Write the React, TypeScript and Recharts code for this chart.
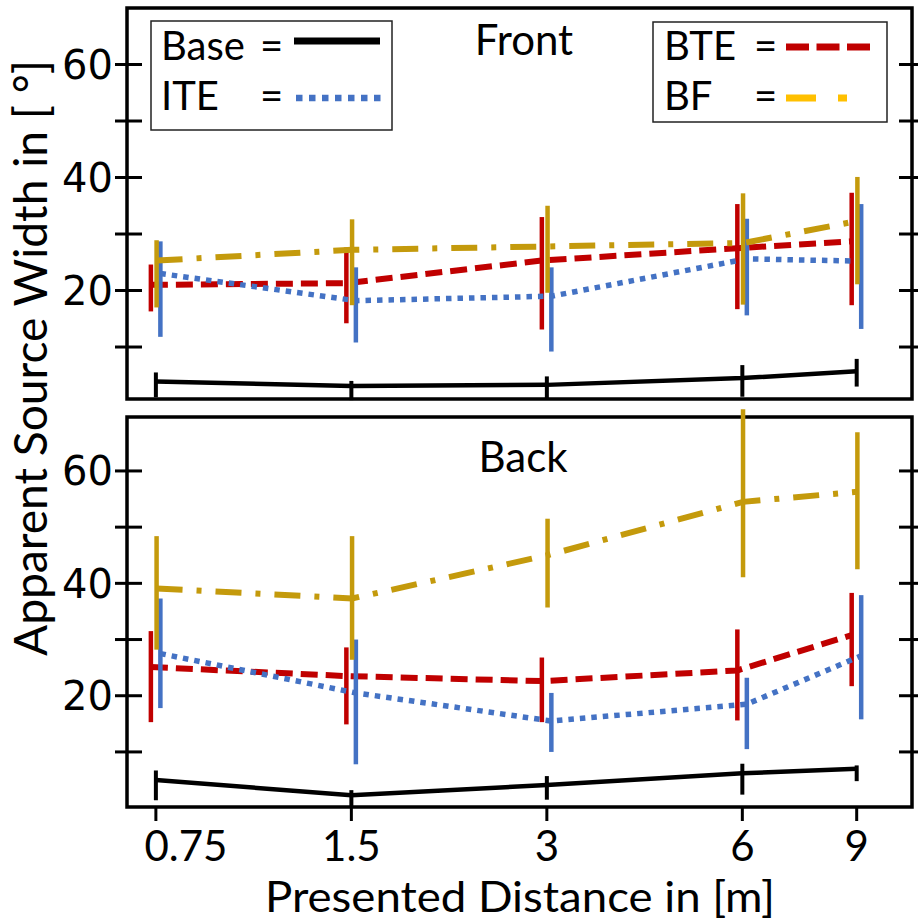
import { LineChart, Line, XAxis, YAxis, ErrorBar, ReferenceArea } from 'recharts';

// presented distances in metres
const distances = [0.75, 1.5, 3, 6, 9];
const yTicks = [10, 20, 30, 40, 50, 60];
const yLabelTicks = [20, 40, 60];

// Front: mean, lower end and upper end of each error bar
const frontBaseMean = [3.9, 3.1, 3.3, 4.5, 5.7];
const frontBaseLow = [1.1, 0.6, 0.8, 1.2, 3.0];
const frontBaseHigh = [5.5, 4.0, 4.8, 6.8, 7.9];
const frontIteMean = [23.0, 18.2, 19.0, 25.6, 25.2];
const frontIteLow = [11.8, 10.8, 9.2, 15.6, 13.2];
const frontIteHigh = [28.7, 24.1, 24.1, 32.7, 35.3];
const frontBteMean = [21.0, 21.3, 25.3, 27.5, 28.7];
const frontBteLow = [16.3, 14.2, 13.1, 16.7, 17.4];
const frontBteHigh = [24.6, 27.6, 33.0, 35.3, 37.3];
const frontBfMean = [25.3, 27.2, 27.8, 28.4, 32.3];
const frontBfLow = [17.0, 17.4, 19.6, 17.5, 21.1];
const frontBfHigh = [28.9, 32.6, 35.0, 37.2, 40.1];

// Back
const backBaseMean = [5.0, 2.3, 4.1, 6.2, 7.0];
const backBaseLow = [1.4, 0.2, 1.5, 2.4, 4.8];
const backBaseHigh = [6.7, 3.2, 5.7, 7.9, 7.6];
const backIteMean = [27.5, 20.5, 15.5, 18.5, 27.1];
const backIteLow = [17.8, 7.8, 10.0, 10.5, 15.8];
const backIteHigh = [37.3, 30.0, 20.5, 23.2, 37.9];
const backBteMean = [25.1, 23.5, 22.6, 24.5, 30.8];
const backBteLow = [15.3, 14.9, 15.3, 15.6, 21.7];
const backBteHigh = [31.5, 28.6, 26.8, 31.8, 38.3];
const backBfMean = [39.1, 37.3, 45.0, 54.5, 56.3];
const backBfLow = [28.2, 26.4, 35.7, 41.1, 42.5];
const backBfHigh = [48.4, 48.4, 51.5, 71.0, 66.9];

const BLACK = '#000000';
const BLUE = '#4472C4';
const RED = '#C00000';
const GOLD = '#C49A0C';
const GOLD_LEGEND = '#FFC000';

const LATO = 'Lato, "Liberation Sans", sans-serif';

const X_DOMAIN: [number, number] = [0.677, 10.95];
const PLOT_W = 785;
const PX_PER_DECADE = PLOT_W / Math.log10(X_DOMAIN[1] / X_DOMAIN[0]);

// move a series sideways by a few pixels (so the error bars sit side by side)
function shifted(px: number): [number, number] {
  const k = Math.pow(10, -px / PX_PER_DECADE);
  return [X_DOMAIN[0] * k, X_DOMAIN[1] * k];
}

function err(mean: number[], low: number[], high: number[]) {
  return mean.map((m, i) => [m - low[i], high[i] - m]);
}

function buildRows(
  base: number[][],
  ite: number[][],
  bte: number[][],
  bf: number[][],
) {
  const baseErr = err(base[0], base[1], base[2]);
  const iteErr = err(ite[0], ite[1], ite[2]);
  const bteErr = err(bte[0], bte[1], bte[2]);
  const bfErr = err(bf[0], bf[1], bf[2]);
  return distances.map((d, i) => ({
    x: d,
    base: base[0][i],
    baseErr: baseErr[i],
    ite: ite[0][i],
    iteErr: iteErr[i],
    bte: bte[0][i],
    bteErr: bteErr[i],
    bf: bf[0][i],
    bfErr: bfErr[i],
  }));
}

const frontRows = buildRows(
  [frontBaseMean, frontBaseLow, frontBaseHigh],
  [frontIteMean, frontIteLow, frontIteHigh],
  [frontBteMean, frontBteLow, frontBteHigh],
  [frontBfMean, frontBfLow, frontBfHigh],
);
const backRows = buildRows(
  [backBaseMean, backBaseLow, backBaseHigh],
  [backIteMean, backIteLow, backIteHigh],
  [backBteMean, backBteLow, backBteHigh],
  [backBfMean, backBfLow, backBfHigh],
);

function LeftTick(props: any) {
  const { x, y, payload } = props;
  const v = payload.value;
  return (
    <g>
      <line x1={x - 12} x2={x + 15} y1={y} y2={y} stroke={BLACK} strokeWidth={3} />
      {yLabelTicks.includes(v) && (
        <text
          x={x - 14}
          y={y}
          dy="0.36em"
          textAnchor="end"
          fontFamily='"DejaVu Sans", sans-serif'
          fontSize={40}
          fill={BLACK}
        >
          {v}
        </text>
      )}
    </g>
  );
}

function RightTick(props: any) {
  const { x, y } = props;
  return <line x1={x - 13} x2={x + 6} y1={y} y2={y} stroke={BLACK} strokeWidth={3} />;
}

function BottomTick(props: any) {
  const { x, y, payload } = props;
  // the first label sits a little right of its tick in the original
  const dx = payload.value === 0.75 ? 30 : 0;
  return (
    <g>
      <line x1={x} x2={x} y1={y} y2={y + 14} stroke={BLACK} strokeWidth={3} />
      <text
        x={x + dx}
        y={y + 54}
        textAnchor="middle"
        fontFamily={LATO}
        fontSize={42}
        fill={BLACK}
      >
        {payload.value}
      </text>
    </g>
  );
}

interface PanelProps {
  rows: ReturnType<typeof buildRows>;
  height: number;
  top: number;
  bottom: number;
  yDomain: [number, number];
  showX: boolean;
}

function Panel({ rows, height, top, bottom, yDomain, showX }: PanelProps) {
  const xCommon = {
    dataKey: 'x',
    type: 'number' as const,
    scale: 'log' as const,
    ticks: distances,
    allowDataOverflow: true,
  };
  return (
    <LineChart
      width={918}
      height={height}
      data={rows}
      margin={{ top, right: 5, bottom: showX ? bottom - 1 : bottom, left: 126 }}
    >
      <XAxis
        {...xCommon}
        xAxisId="base"
        domain={X_DOMAIN}
        hide={!showX}
        height={1}
        interval={0}
        tickSize={0}
        tickMargin={0}
        tickLine={false}
        axisLine={false}
        tick={<BottomTick />}
      />
      <XAxis {...xCommon} xAxisId="bte" domain={shifted(-5)} hide />
      <XAxis {...xCommon} xAxisId="ite" domain={shifted(4.5)} hide />
      <XAxis {...xCommon} xAxisId="bf" domain={shifted(0.7)} hide />
      <YAxis
        yAxisId="l"
        type="number"
        domain={yDomain}
        ticks={yTicks}
        allowDataOverflow
        interval={0}
        width={1}
        tickSize={0}
        tickMargin={0}
        tickLine={false}
        axisLine={false}
        tick={<LeftTick />}
      />
      <YAxis
        yAxisId="r"
        orientation="right"
        type="number"
        domain={yDomain}
        ticks={yTicks}
        allowDataOverflow
        interval={0}
        width={1}
        tickSize={0}
        tickMargin={0}
        tickLine={false}
        axisLine={false}
        tick={<RightTick />}
      />
      <Line
        xAxisId="base"
        yAxisId="l"
        dataKey="base"
        stroke={BLACK}
        strokeWidth={4.5}
        dot={false}
        activeDot={false}
        isAnimationActive={false}
      >
        <ErrorBar dataKey="baseErr" width={0} stroke={BLACK} strokeWidth={4} direction="y" />
      </Line>
      <Line
        xAxisId="bte"
        yAxisId="l"
        dataKey="bte"
        stroke={RED}
        strokeWidth={6}
        strokeDasharray="17 8"
        dot={false}
        activeDot={false}
        isAnimationActive={false}
      >
        <ErrorBar dataKey="bteErr" width={0} stroke={RED} strokeWidth={4.5} direction="y" />
      </Line>
      <Line
        xAxisId="ite"
        yAxisId="l"
        dataKey="ite"
        stroke={BLUE}
        strokeWidth={5.5}
        strokeDasharray="5.5 6"
        dot={false}
        activeDot={false}
        isAnimationActive={false}
      >
        <ErrorBar dataKey="iteErr" width={0} stroke={BLUE} strokeWidth={4.5} direction="y" />
      </Line>
      <Line
        xAxisId="bf"
        yAxisId="l"
        dataKey="bf"
        stroke={GOLD}
        strokeWidth={6}
        strokeDasharray="26 14 5 14"
        dot={false}
        activeDot={false}
        isAnimationActive={false}
      >
        <ErrorBar dataKey="bfErr" width={0} stroke={GOLD} strokeWidth={4.5} direction="y" />
      </Line>
      <ReferenceArea
        xAxisId="base"
        yAxisId="l"
        x1={X_DOMAIN[0]}
        x2={X_DOMAIN[1]}
        y1={yDomain[0]}
        y2={yDomain[1]}
        fill="none"
        stroke={BLACK}
        strokeWidth={3.5}
        ifOverflow="visible"
      />
    </LineChart>
  );
}

function Overlay() {
  const t = { fontFamily: LATO, fontSize: 40, fill: BLACK };
  return (
    <svg
      width={918}
      height={920}
      style={{ position: 'absolute', left: 0, top: 0, pointerEvents: 'none' }}
    >
      <text x={524} y={55} textAnchor="middle" fontFamily={LATO} fontSize={42}>Front</text>
      <text x={523} y={472} textAnchor="middle" fontFamily={LATO} fontSize={42}>Back</text>

      <rect x={151} y={21} width={241} height={109} fill="#fff" stroke="#222" strokeWidth={1.5} />
      <text x={161} y={60} {...t}>Base</text>
      <text x={260} y={60} {...t}>=</text>
      <line x1={294} x2={380} y1={41} y2={41} stroke={BLACK} strokeWidth={7} />
      <text x={161} y={110} {...t}>ITE</text>
      <text x={260} y={110} {...t}>=</text>
      <line x1={296} x2={383} y1={98} y2={98} stroke={BLUE} strokeWidth={6.5} strokeDasharray="6.5 6.5" />

      <rect x={653} y={22} width={234} height={100} fill="#fff" stroke="#222" strokeWidth={1.5} />
      <text x={664} y={60} {...t}>BTE</text>
      <text x={754} y={60} {...t}>=</text>
      <line x1={786} x2={870} y1={47} y2={47} stroke={RED} strokeWidth={7} strokeDasharray="23 7.5" />
      <text x={664} y={110} {...t}>BF</text>
      <text x={754} y={110} {...t}>=</text>
      <line x1={786} x2={848} y1={98} y2={98} stroke={GOLD_LEGEND} strokeWidth={7} strokeDasharray="30 22 9 100" />

      <text
        x={520}
        y={912}
        textAnchor="middle"
        fontFamily={LATO}
        fontSize={42}
        textLength={510}
        lengthAdjust="spacingAndGlyphs"
      >
        Presented Distance in [m]
      </text>
      <text
        transform="translate(47 358) rotate(-90)"
        textAnchor="middle"
        fontFamily={LATO}
        fontSize={46}
        textLength={596}
        lengthAdjust="spacingAndGlyphs"
      >
        Apparent Source Width in [ °]
      </text>
    </svg>
  );
}

export default function App() {
  return (
    <div
      style={{
        position: 'absolute',
        left: 0,
        top: 0,
        width: 918,
        height: 920,
        background: '#fff',
        overflow: 'hidden',
      }}
    >
      <div style={{ position: 'absolute', left: 0, top: 0 }}>
        <Panel rows={frontRows} height={410} top={8} bottom={11} yDomain={[0.8, 70]} showX={false} />
      </div>
      <div style={{ position: 'absolute', left: 0, top: 400 }}>
        <Panel rows={backRows} height={520} top={17} bottom={113} yDomain={[0.2, 69.6]} showX />
      </div>
      <Overlay />
    </div>
  );
}
